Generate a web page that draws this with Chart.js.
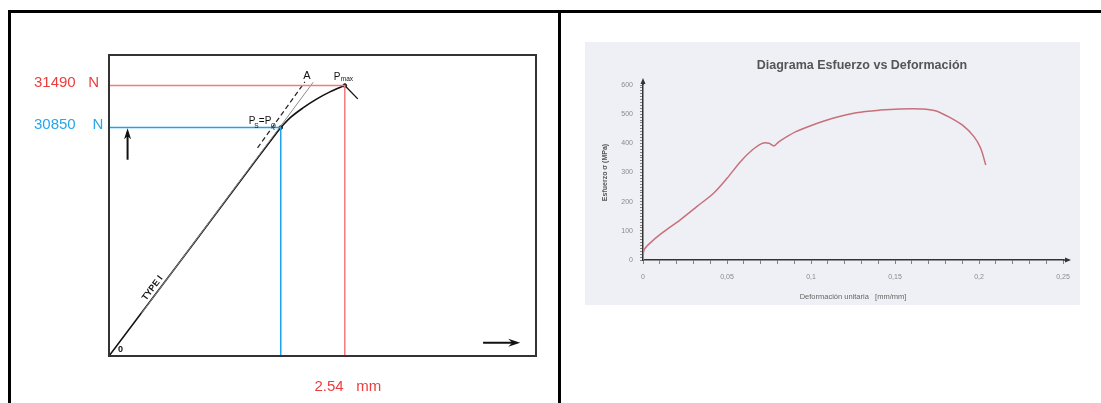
<!DOCTYPE html>
<html>
<head>
<meta charset="utf-8">
<script src="https://cdn.jsdelivr.net/npm/chart.js@4.4.1/dist/chart.umd.min.js"></script>
<style>
  html, body { margin: 0; padding: 0; background: #fff; overflow: hidden; }
  #wrap { position: relative; width: 1101px; height: 403px; }
  .rule { position: absolute; background: #000; }
  #left { position: absolute; left: 0; top: 0; }
  #right { position: absolute; left: 585px; top: 42px; background: #eff0f5; }
</style>
</head>
<body>
<div id="wrap">
  <div class="rule" style="left:8px;top:10px;width:1093px;height:3px"></div>
  <div class="rule" style="left:8px;top:10px;width:3px;height:393px"></div>
  <div class="rule" style="left:558px;top:10px;width:3px;height:393px"></div>
  <canvas id="left" width="556" height="403"></canvas>
  <canvas id="right" width="495" height="263"></canvas>
</div>
<script>
// ---- left panel: load (N) vs elongation (mm)
const elasticX = [0, 0.94, 1.594, 1.85];
const elasticY = [27370, 29138, 30375, 30850];
const plasticX = [1.85, 1.95, 2.09, 2.24, 2.38, 2.54];
const plasticY = [30850, 30997, 31149, 31286, 31393, 31490];
const tailX = [2.54, 2.68];
const tailY = [31490, 31286];
const offsetX = [0.35, 2.2];
const offsetY = [28020, 31540];
const dashX = [1.6, 2.11];
const dashY = [30540, 31545];
const pqX = 1.85, pqY = 30850;      // Ps = PQ
const pmaxX = 2.54, pmaxY = 31490;  // Pmax
const yTicks = [30850, 31490];
const yTickText = ['30850    N', '31490   N'];
const yTickColors = ['#27a6ec', '#ee3d3d'];
const xTicks = [2.54];
const xTickText = ['2.54   mm'];
const upArrowX = [0.2, 0.2], upArrowY = [30360, 30840];
const rightArrowX = [4.03, 4.43], rightArrowY = [27570, 27570];

// ---- right panel: stress (MPa) vs strain (mm/mm)
const strain = [0, 0.0006, 0.004, 0.011, 0.022, 0.032, 0.042, 0.05, 0.058, 0.065, 0.071, 0.075, 0.078,
  0.081, 0.091, 0.101, 0.113, 0.127, 0.141, 0.153, 0.166, 0.174, 0.182, 0.19, 0.197, 0.201, 0.204];
const stress = [0, 34, 57, 91, 137, 183, 229, 280, 337, 377, 400, 400, 391,
  406, 440, 463, 486, 505, 514, 518, 518, 512, 491, 463, 423, 383, 326];

const pts = (xs, ys) => xs.map((v, i) => ({ x: v, y: ys[i] }));
Chart.defaults.font.family = '"Liberation Sans", Arial, sans-serif';

const leftDeco = {
  id: 'leftDeco',
  afterDatasetsDraw(chart) {
    const { ctx, chartArea: a, scales: { x, y } } = chart;
    ctx.save();
    ctx.strokeStyle = '#333';
    ctx.lineWidth = 2;
    ctx.strokeRect(a.left, a.top, a.right - a.left, a.bottom - a.top);

    ctx.fillStyle = '#111';
    ctx.strokeStyle = '#111';
    // up arrow
    let ax = x.getPixelForValue(upArrowX[0]);
    let y0 = y.getPixelForValue(upArrowY[0]), y1 = y.getPixelForValue(upArrowY[1]);
    ctx.lineWidth = 2;
    ctx.beginPath(); ctx.moveTo(ax, y0); ctx.lineTo(ax, y1 + 4); ctx.stroke();
    ctx.beginPath(); ctx.moveTo(ax, y1); ctx.lineTo(ax - 3.5, y1 + 11); ctx.lineTo(ax, y1 + 8); ctx.lineTo(ax + 3.5, y1 + 11); ctx.closePath(); ctx.fill();
    // right arrow
    let x0 = x.getPixelForValue(rightArrowX[0]), x1 = x.getPixelForValue(rightArrowX[1]);
    let ay = y.getPixelForValue(rightArrowY[0]);
    ctx.beginPath(); ctx.moveTo(x0, ay); ctx.lineTo(x1 - 4, ay); ctx.stroke();
    ctx.beginPath(); ctx.moveTo(x1, ay); ctx.lineTo(x1 - 12, ay - 4); ctx.lineTo(x1 - 8, ay); ctx.lineTo(x1 - 12, ay + 4); ctx.closePath(); ctx.fill();

    // labels
    ctx.textBaseline = 'alphabetic';
    ctx.font = 'bold 9px "Liberation Sans", Arial, sans-serif';
    ctx.fillText('0', a.left + 9, a.bottom - 4);

    const dx = x.getPixelForValue(dashX[1]), dy = y.getPixelForValue(dashY[1]);
    ctx.font = '11px "Liberation Sans", Arial, sans-serif';
    ctx.textAlign = 'center';
    ctx.fillText('A', dx + 2, dy - 3);

    const px = x.getPixelForValue(pmaxX), py = y.getPixelForValue(pmaxY);
    ctx.textAlign = 'left';
    ctx.font = '10px "Liberation Sans", Arial, sans-serif';
    ctx.fillText('P', px - 11, py - 6);
    ctx.font = '6.5px "Liberation Sans", Arial, sans-serif';
    ctx.fillText('max', px - 4, py - 5);

    const qx = x.getPixelForValue(pqX), qy = y.getPixelForValue(pqY);
    ctx.font = '10px "Liberation Sans", Arial, sans-serif';
    ctx.fillText('P', qx - 32, qy - 4);
    ctx.fillText('=', qx - 22, qy - 4);
    ctx.fillText('P', qx - 16, qy - 4);
    ctx.font = '6.5px "Liberation Sans", Arial, sans-serif';
    ctx.fillText('S', qx - 26.5, qy);
    ctx.fillText('Q', qx - 10, qy);

    // TYPE I along the line
    const lx0 = x.getPixelForValue(elasticX[0]), ly0 = y.getPixelForValue(elasticY[0]);
    const lx1 = x.getPixelForValue(elasticX[1]), ly1 = y.getPixelForValue(elasticY[1]);
    const ang = Math.atan2(ly1 - ly0, lx1 - lx0);
    const t = 0.52 / elasticX[1];
    ctx.translate(lx0 + (lx1 - lx0) * t, ly0 + (ly1 - ly0) * t);
    ctx.rotate(ang);
    ctx.font = 'bold 9px "Liberation Sans", Arial, sans-serif';
    ctx.textAlign = 'center';
    ctx.textBaseline = 'middle';
    ctx.fillText('TYPE I', 0, -6);
    ctx.restore();
  }
};

new Chart(document.getElementById('left'), {
  type: 'scatter',
  data: {
    datasets: [
      { data: pts([0, pmaxX, pmaxX], [pmaxY, pmaxY, 27370]), showLine: true, borderColor: '#f27c7c', borderWidth: 1.5, pointRadius: 0 },
      { data: pts([0, pqX, pqX], [pqY, pqY, 27370]), showLine: true, borderColor: '#1ca3ea', borderWidth: 1.5, pointRadius: 0 },
      { data: pts(offsetX, offsetY), showLine: true, borderColor: '#8a8a8a', borderWidth: 1, pointRadius: 0 },
      { data: pts(dashX, dashY), showLine: true, borderColor: '#222', borderWidth: 1.2, borderDash: [5, 3], pointRadius: 0 },
      { data: pts(elasticX, elasticY), showLine: true, borderColor: '#111', borderWidth: 1.6, pointRadius: 0 },
      { data: pts(plasticX, plasticY), showLine: true, borderColor: '#111', borderWidth: 1.6, pointRadius: 0, cubicInterpolationMode: 'monotone' },
      { data: pts(tailX, tailY), showLine: true, borderColor: '#111', borderWidth: 1.3, pointRadius: 0 },
      { data: pts([pqX, pmaxX], [pqY, pmaxY]), showLine: false, pointRadius: 1.8, backgroundColor: '#111', borderColor: '#111' }
    ]
  },
  options: {
    responsive: false,
    animation: false,
    layout: { padding: { left: 34, top: 55, right: 20, bottom: 0 } },
    plugins: { legend: { display: false }, tooltip: { enabled: false } },
    scales: {
      x: {
        type: 'linear', min: 0, max: 4.6,
        afterBuildTicks: s => { s.ticks = xTicks.map(v => ({ value: v })); },
        afterFit: s => { s.height = 47; },
        grid: { display: false }, border: { display: false },
        ticks: { callback: (v, i) => xTickText[i], color: '#ee3d3d', font: { size: 15 }, padding: 14, labelOffset: 3, maxRotation: 0, autoSkip: false }
      },
      y: {
        type: 'linear', min: 27370, max: 31955,
        afterBuildTicks: s => { s.ticks = yTicks.map(v => ({ value: v })); },
        afterFit: s => { s.width = 75; },
        grid: { display: false }, border: { display: false },
        ticks: { callback: (v, i) => yTickText[i], color: c => yTickColors[c.index], font: { size: 15 }, crossAlign: 'far', labelOffset: -3, autoSkip: false }
      }
    }
  },
  plugins: [leftDeco]
});

const rightDeco = {
  id: 'rightDeco',
  afterDraw(chart) {
    const { ctx, chartArea: a } = chart;
    ctx.save();
    ctx.fillStyle = '#555';
    ctx.font = 'bold 12.5px "Liberation Sans", Arial, sans-serif';
    ctx.textAlign = 'center';
    ctx.textBaseline = 'middle';
    ctx.fillText('Diagrama Esfuerzo vs Deformación', 277, 24);
    ctx.fillStyle = '#333';
    ctx.strokeStyle = '#333';
    ctx.lineWidth = 1.5;
    ctx.beginPath(); ctx.moveTo(a.left, a.top); ctx.lineTo(a.left, a.top - 3); ctx.stroke();
    ctx.beginPath(); ctx.moveTo(a.left, a.top - 7); ctx.lineTo(a.left - 2.5, a.top - 1); ctx.lineTo(a.left + 2.5, a.top - 1); ctx.closePath(); ctx.fill();
    ctx.beginPath(); ctx.moveTo(a.right, a.bottom); ctx.lineTo(a.right + 3, a.bottom); ctx.stroke();
    ctx.beginPath(); ctx.moveTo(a.right + 8, a.bottom); ctx.lineTo(a.right + 2, a.bottom - 2.5); ctx.lineTo(a.right + 2, a.bottom + 2.5); ctx.closePath(); ctx.fill();
    ctx.restore();
  }
};

new Chart(document.getElementById('right'), {
  type: 'scatter',
  data: {
    datasets: [{
      data: pts(strain, stress), showLine: true, borderColor: '#c8707a', borderWidth: 1.5, pointRadius: 0, tension: 0.3
    }]
  },
  options: {
    responsive: false,
    animation: false,
    layout: { padding: { left: 12, top: 43, right: 17, bottom: 0 } },
    plugins: { legend: { display: false }, tooltip: { enabled: false } },
    scales: {
      x: {
        type: 'linear', min: 0, max: 0.25,
        afterFit: s => { s.height = 45; },
        grid: { drawOnChartArea: false, tickLength: 4, color: '#666', lineWidth: 0.8 },
        border: { color: '#333', width: 1.5 },
        ticks: {
          stepSize: 0.01, autoSkip: false, maxRotation: 0, padding: 9, color: '#8a8a8a', font: { size: 7 },
          callback: v => { const k = Math.round(v * 100); return k % 5 === 0 ? String(k / 100).replace('.', ',') : ''; }
        },
        title: { display: true, text: 'Deformación unitaria   [mm/mm]', color: '#666', font: { size: 7.5 }, padding: { top: 1 } }
      },
      y: {
        type: 'linear', min: 0, max: 600,
        afterFit: s => { s.width = 46; },
        grid: { drawOnChartArea: false, tickLength: 3, color: '#666', lineWidth: 0.8 },
        border: { color: '#333', width: 1.5 },
        ticks: {
          stepSize: 10, autoSkip: false, padding: 7, color: '#8a8a8a', font: { size: 7 },
          callback: v => (v % 100 === 0 ? v : '')
        },
        title: { display: true, text: 'Esfuerzo σ (MPa)', color: '#555', font: { size: 7, weight: 'bold' }, padding: { top: 4 } }
      }
    }
  },
  plugins: [rightDeco]
});
</script>
</body>
</html>
